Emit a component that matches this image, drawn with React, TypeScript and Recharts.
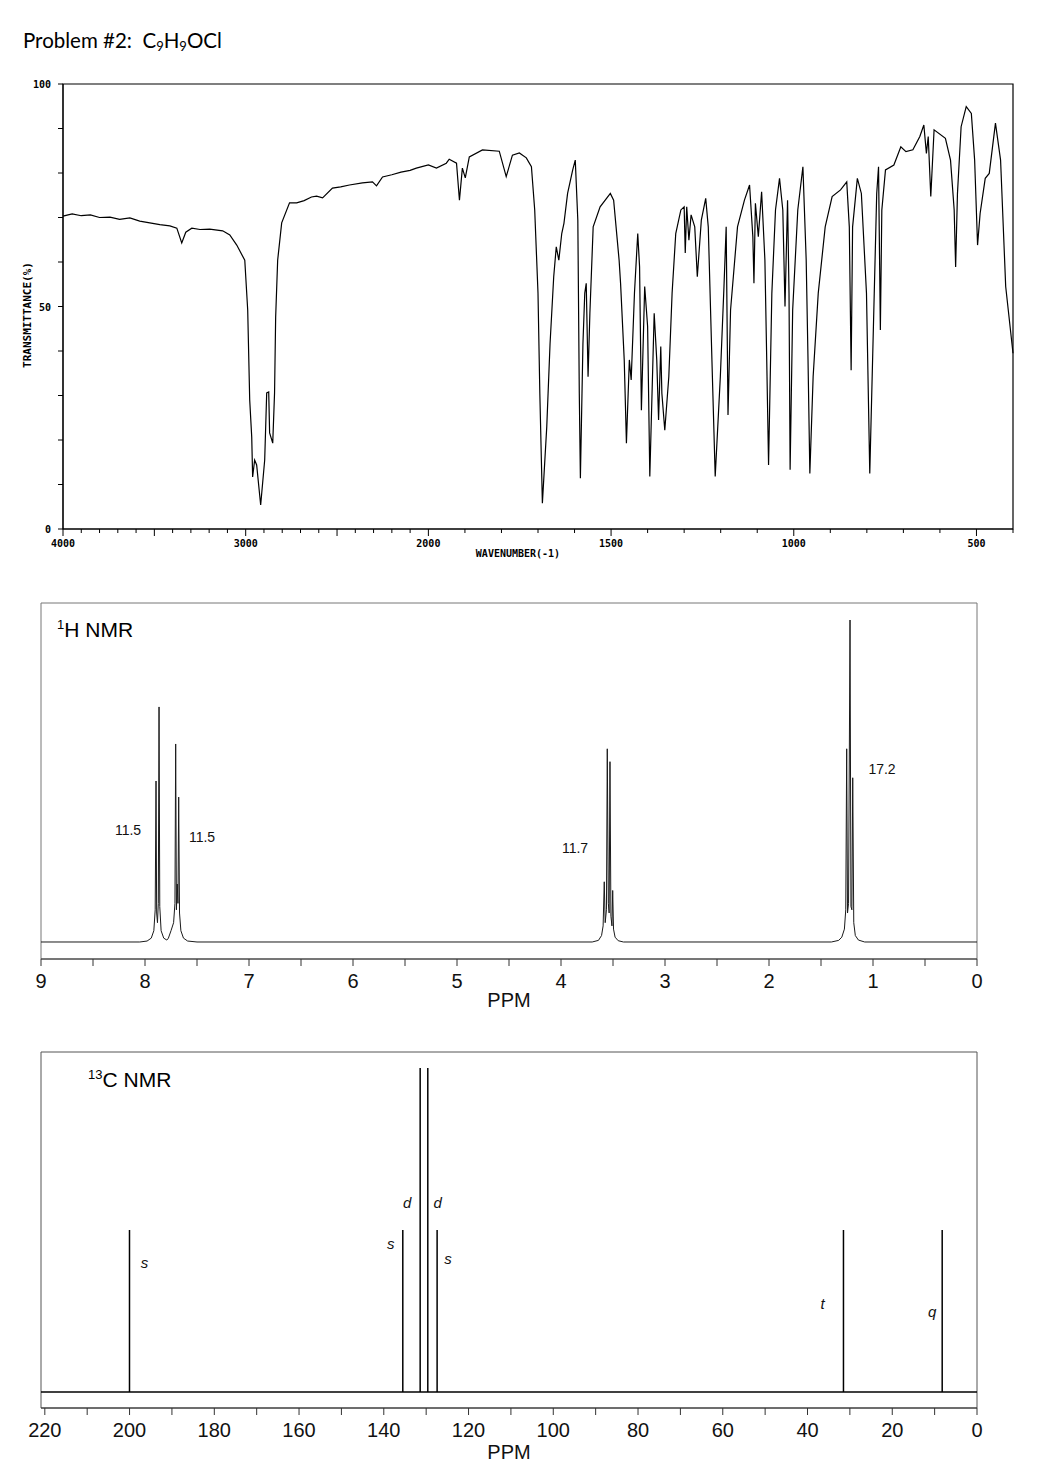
import { LineChart, Line, BarChart, Bar, XAxis, YAxis, ReferenceArea, ReferenceLine, LabelList } from 'recharts';

// ---- IR spectrum: wavenumber (cm-1) vs transmittance (%) ----
const irWavenumber = [
  4000, 3950, 3900, 3850, 3800, 3743, 3690, 3634, 3580, 3525, 3470, 3415, 3377, 3350, 3328, 3295, 3250, 3197,
  3126, 3087, 3049, 3005, 2989, 2978, 2967, 2962, 2951, 2940, 2918, 2896, 2885, 2874, 2869, 2852, 2842, 2836,
  2825, 2803, 2760, 2721, 2680, 2640, 2612, 2579, 2525, 2480, 2432, 2361, 2306, 2284, 2251, 2200, 2150, 2100,
  2066, 2000, 1978, 1951, 1943, 1923, 1915, 1907, 1899, 1888, 1852, 1806, 1787, 1770, 1751, 1732, 1718, 1709,
  1700, 1695, 1688, 1676, 1667, 1657, 1650, 1643, 1635, 1629, 1619, 1605, 1598, 1591, 1587, 1584, 1577, 1572,
  1568, 1563, 1558, 1549, 1530, 1502, 1493, 1478, 1474, 1464, 1458, 1450, 1445, 1436, 1427, 1422, 1417, 1408,
  1400, 1394, 1382, 1375, 1370, 1364, 1361, 1353, 1342, 1333, 1323, 1309, 1300, 1297, 1293, 1287, 1281, 1271,
  1264, 1253, 1241, 1234, 1224, 1215, 1201, 1191, 1185, 1180, 1173, 1154, 1135, 1121, 1112, 1109, 1105, 1097,
  1088, 1079, 1074, 1069, 1060, 1050, 1039, 1030, 1024, 1017, 1013, 1010, 1003, 989, 975, 966, 961, 956,
  947, 933, 914, 895, 872, 855, 848, 843, 839, 826, 815, 801, 792, 782, 773, 768, 763, 759,
  749, 726, 707, 693, 674, 655, 644, 637, 632, 625, 616, 585, 571, 561, 557, 552, 542, 528,
  514, 505, 497, 490, 476, 465, 448, 434, 420, 400,
];
const irTransmittance = [
  70.3, 70.8, 70.4, 70.6, 70.0, 70.1, 69.6, 69.9, 69.2, 68.8, 68.4, 68.1, 67.6, 64.3, 66.7, 67.6, 67.3, 67.4,
  67.0, 66.1, 63.8, 60.4, 49.2, 29.0, 20.7, 11.7, 15.5, 14.4, 5.4, 15.5, 30.6, 30.8, 21.6, 19.3, 30.6, 47.6,
  60.4, 68.8, 73.3, 73.3, 73.8, 74.6, 74.8, 74.4, 76.6, 76.9, 77.3, 77.8, 78.0, 77.1, 79.1, 79.6, 80.2, 80.6,
  81.1, 81.8, 81.1, 82.2, 83.1, 82.2, 73.9, 81.1, 78.9, 83.6, 85.2, 84.9, 79.2, 84.0, 84.5, 83.4, 81.4, 71.7,
  53.0, 30.5, 5.8, 23.0, 41.7, 56.7, 63.4, 60.4, 66.4, 68.7, 75.4, 80.7, 82.9, 69.4, 30.5, 11.4, 41.7, 53.0,
  55.2, 34.2, 48.5, 67.9, 72.4, 75.4, 73.9, 60.4, 55.2, 38.0, 19.3, 38.0, 33.5, 53.0, 66.4, 58.9, 26.7, 54.5,
  45.5, 11.8, 48.5, 38.0, 24.5, 41.0, 30.5, 22.2, 34.2, 53.0, 66.4, 71.7, 72.4, 62.0, 72.4, 64.9, 70.6, 67.9,
  56.7, 69.4, 74.3, 67.9, 38.0, 11.8, 34.2, 54.5, 67.9, 25.6, 49.2, 67.9, 73.9, 77.3, 65.7, 55.2, 73.2, 65.7,
  75.8, 60.4, 38.0, 14.4, 53.0, 71.7, 78.8, 71.7, 50.0, 73.9, 53.0, 13.3, 49.2, 71.7, 81.4, 60.4, 38.0, 12.5,
  34.2, 53.0, 67.9, 74.7, 76.2, 78.0, 67.9, 35.7, 67.9, 78.8, 75.4, 53.0, 12.5, 45.5, 75.4, 81.4, 44.7, 71.7,
  80.7, 81.8, 85.9, 84.8, 85.2, 88.2, 90.8, 84.4, 88.2, 74.7, 89.7, 87.8, 82.9, 71.7, 58.9, 75.4, 90.4, 94.9,
  93.4, 82.9, 63.8, 70.9, 78.8, 79.9, 91.2, 82.9, 54.5, 39.5,
];
const irTickWaves = [
  4000, 3900, 3800, 3700, 3600, 3500, 3400, 3300, 3200, 3100, 3000, 2900, 2800, 2700, 2600, 2500, 2400, 2300,
  2200, 2100, 2000, 1900, 1800, 1700, 1600, 1500, 1400, 1300, 1200, 1100, 1000, 900, 800, 700, 600, 500, 400,
];
const irLabelWaves = [4000, 3000, 2000, 1500, 1000, 500];
const irMajorWaves = [4000, 3500, 3000, 2500, 2000, 1500, 1000, 500];
const irYTicks = [0, 10, 20, 30, 40, 50, 60, 70, 80, 90, 100];

// ---- 1H NMR trace ----
const hPpm = [
  9.0, 8.05, 7.98, 7.94, 7.915, 7.902, 7.894, 7.888, 7.88, 7.872, 7.865, 7.858, 7.845, 7.82, 7.79, 7.775,
  7.75, 7.725, 7.712, 7.705, 7.698, 7.69, 7.683, 7.676, 7.668, 7.655, 7.63, 7.59, 7.5,
  3.7, 3.64, 3.61, 3.595, 3.584, 3.575, 3.563, 3.555, 3.545, 3.537, 3.529, 3.52, 3.51, 3.503, 3.495, 3.48, 3.45, 3.4,
  1.4, 1.33, 1.3, 1.275, 1.262, 1.253, 1.245, 1.235, 1.221, 1.212, 1.203, 1.195, 1.185, 1.17, 1.14, 1.08, 0,
];
const hIntensity = [
  0, 0, 0.3, 1.2, 3.5, 10, 50, 9, 6, 12, 73, 11, 3.5, 1.2, 0.6, 1.2,
  3.5, 6, 12, 61.5, 10, 18, 12, 45, 9, 3.5, 1.2, 0.3, 0,
  0, 0.5, 2, 5, 18.7, 6, 10, 60, 12, 9, 56, 8, 5, 16, 4, 1.5, 0.4, 0,
  0, 0.5, 1.5, 4, 10, 60, 9, 12, 100, 11, 10, 51, 6, 2, 0.6, 0, 0,
];
const hIntegrals = ['11.5', '11.5', '11.7', '17.2'];
const hTicks = [9, 8.5, 8, 7.5, 7, 6.5, 6, 5.5, 5, 4.5, 4, 3.5, 3, 2.5, 2, 1.5, 1, 0.5, 0];

// ---- 13C NMR lines ----
const cPpm = [200.0, 135.5, 131.4, 129.6, 127.4, 31.5, 8.2];
const cHeight = [50, 50, 100, 100, 50, 50, 50];
const cMultiplicity = ['s', 's', 'd', 'd', 's', 't', 'q'];
const cTicks = [220, 210, 200, 190, 180, 170, 160, 150, 140, 130, 120, 110, 100, 90, 80, 70, 60, 50, 40, 30, 20, 10, 0];

// layout bits (page coordinates / offsets)
const INTEGRAL_POS = [
  [128, 835],
  [202, 842],
  [575, 853],
  [882, 774],
];
const MULT_OFFSET = [
  [15, 32],
  [-12, 13],
  [-13, 134],
  [10, 134],
  [11, 28],
  [-21, 73],
  [-10, 81],
];

const SANS = "'Liberation Sans', Arial, sans-serif";
const MONO = "'DejaVu Sans Mono', monospace";

// IR x axis is split: 2x compressed above 2000 cm-1
const irPos = (w: number) => (w >= 2000 ? (4000 - w) / 2 : 1000 + (2000 - w));
const posToWave = (p: number) => Math.round(p <= 1000 ? 4000 - 2 * p : 2000 - (p - 1000));

const irData = irWavenumber.map((w, i) => ({ pos: irPos(w), t: irTransmittance[i] }));
const hData = hPpm.map((p, i) => ({ ppm: p, v: hIntensity[i] }));
const cData = cPpm.map((p, i) => ({ ppm: p, h: cHeight[i], m: cMultiplicity[i] }));

function IrXTick(props: any) {
  const { x, y, payload } = props;
  const w = posToWave(payload.value);
  const len = irMajorWaves.includes(w) ? 7 : 4;
  return (
    <g>
      <line x1={x} x2={x} y1={y} y2={y + len} stroke="#000" />
      {irLabelWaves.includes(w) && (
        <text x={x} y={y + 18} textAnchor="middle" fontSize={10} fontWeight="bold" fontFamily={MONO} fill="#000">
          {w}
        </text>
      )}
    </g>
  );
}

function IrYTick(props: any) {
  const { x, y, payload } = props;
  const v = payload.value;
  return (
    <g>
      <line x1={x - 5} x2={x} y1={y} y2={y} stroke="#000" />
      {v % 50 === 0 && (
        <text x={x - 12} y={y + 4} textAnchor="end" fontSize={10} fontWeight="bold" fontFamily={MONO} fill="#000">
          {v}
        </text>
      )}
    </g>
  );
}

function PpmTick(props: any) {
  const { x, y, payload, step } = props;
  const v = payload.value;
  const labeled = Math.abs(v / step - Math.round(v / step)) < 1e-6;
  return (
    <g>
      <line x1={x} x2={x} y1={y} y2={y + 7} stroke="#333" />
      {labeled && (
        <text x={x} y={y + 29} textAnchor="middle" fontSize={20} fontFamily={SANS} fill="#111">
          {v}
        </text>
      )}
    </g>
  );
}

function MultLabel(props: any) {
  const { x, y, width, value, index } = props;
  const [dx, dy] = MULT_OFFSET[index] || [0, 0];
  return (
    <text
      x={x + width / 2 + dx}
      y={y + dy}
      textAnchor="middle"
      dominantBaseline="central"
      fontSize={15}
      fontStyle="italic"
      fontFamily={SANS}
      fill="#111"
    >
      {value}
    </text>
  );
}

export default function App() {
  return (
    <div style={{ position: 'absolute', left: 0, top: 0, width: 1040, height: 1482, background: '#fff', overflow: 'hidden' }}>
      {/* IR */}
      <div style={{ position: 'absolute', left: 0, top: 0 }}>
        <LineChart width={1040} height={570} data={irData} margin={{ top: 84, right: 27, bottom: 40, left: 62 }}>
          <XAxis
            type="number"
            dataKey="pos"
            domain={[0, 2600]}
            ticks={irTickWaves.map(irPos)}
            interval={0}
            height={1}
            tickSize={0}
            tickMargin={0}
            tickLine={false}
            tick={(p: any) => <IrXTick {...p} />}
            axisLine={{ stroke: '#000' }}
          />
          <YAxis
            type="number"
            domain={[0, 100]}
            ticks={irYTicks}
            interval={0}
            width={1}
            tickSize={0}
            tickMargin={0}
            tickLine={false}
            tick={(p: any) => <IrYTick {...p} />}
            axisLine={{ stroke: '#000' }}
          />
          <ReferenceArea x1={0} x2={2600} y1={0} y2={100} fill="none" stroke="#000" strokeWidth={1.2} />
          <Line type="linear" dataKey="t" stroke="#000" strokeWidth={1.2} dot={false} isAnimationActive={false} />
        </LineChart>
      </div>

      {/* 1H NMR */}
      <div style={{ position: 'absolute', left: 0, top: 560 }}>
        <LineChart width={1040} height={460} data={hData} margin={{ top: 43, right: 63, bottom: 60, left: 41 }}>
          <XAxis
            type="number"
            dataKey="ppm"
            domain={[0, 9]}
            reversed
            allowDataOverflow
            ticks={hTicks}
            interval={0}
            height={1}
            tickSize={0}
            tickMargin={0}
            tickLine={false}
            tick={(p: any) => <PpmTick {...p} step={1} />}
            axisLine={{ stroke: '#333' }}
          />
          <YAxis type="number" domain={[-5.28, 105.28]} allowDataOverflow hide />
          <ReferenceArea x1={0} x2={9} y1={-5.28} y2={105.28} fill="none" stroke="#777" />
          <Line type="linear" dataKey="v" stroke="#1a1a1a" strokeWidth={1} dot={false} isAnimationActive={false} />
        </LineChart>
      </div>

      {/* 13C NMR */}
      <div style={{ position: 'absolute', left: 0, top: 1010 }}>
        <BarChart width={1040} height={472} data={cData} margin={{ top: 42, right: 63, bottom: 73, left: 41 }}>
          <XAxis
            type="number"
            dataKey="ppm"
            domain={[0, 220.9]}
            reversed
            allowDataOverflow
            ticks={cTicks}
            interval={0}
            height={1}
            tickSize={0}
            tickMargin={0}
            tickLine={false}
            tick={(p: any) => <PpmTick {...p} step={20} />}
            axisLine={{ stroke: '#333' }}
          />
          <YAxis type="number" domain={[-4.94, 104.94]} allowDataOverflow hide />
          <ReferenceArea x1={0} x2={220.9} y1={-4.94} y2={104.94} fill="none" stroke="#555" />
          <ReferenceLine y={0} stroke="#000" strokeWidth={1.5} />
          <Bar dataKey="h" fill="#000" barSize={1.5} isAnimationActive={false}>
            <LabelList dataKey="m" content={(p: any) => <MultLabel {...p} />} />
          </Bar>
        </BarChart>
      </div>

      {/* free text */}
      <svg width={1040} height={1482} style={{ position: 'absolute', left: 0, top: 0, pointerEvents: 'none' }}>
        <text x={23} y={48} fontSize={20.5} fontFamily="Lato, 'Open Sans', sans-serif" fill="#000" style={{ whiteSpace: 'pre' }}>
          {'Problem #2:  C'}
          <tspan fontSize={13} dy={3}>9</tspan>
          <tspan dy={-3}>H</tspan>
          <tspan fontSize={13} dy={3}>9</tspan>
          <tspan dy={-3}>OCl</tspan>
        </text>
        <text transform="translate(31,315) rotate(-90)" textAnchor="middle" fontSize={11} fontWeight="bold" fontFamily={MONO} fill="#000">
          TRANSMITTANCE(%)
        </text>
        <text x={518} y={557} textAnchor="middle" fontSize={10} fontWeight="bold" fontFamily={MONO} fill="#000">
          WAVENUMBER(-1)
        </text>

        <text x={57} y={637} fontSize={21} fontFamily={SANS} fill="#000">
          <tspan fontSize={13} dy={-8}>1</tspan>
          <tspan dy={8}>H NMR</tspan>
        </text>
        {hIntegrals.map((s, i) => (
          <text key={i} x={INTEGRAL_POS[i][0]} y={INTEGRAL_POS[i][1]} textAnchor="middle" fontSize={14} fontFamily={SANS} fill="#111">
            {s}
          </text>
        ))}
        <text x={509} y={1007} textAnchor="middle" fontSize={20} fontFamily={SANS} fill="#111">
          PPM
        </text>

        <text x={88} y={1087} fontSize={21} fontFamily={SANS} fill="#000">
          <tspan fontSize={13} dy={-8}>13</tspan>
          <tspan dy={8}>C NMR</tspan>
        </text>
        <text x={509} y={1459} textAnchor="middle" fontSize={20} fontFamily={SANS} fill="#111">
          PPM
        </text>
      </svg>
    </div>
  );
}
